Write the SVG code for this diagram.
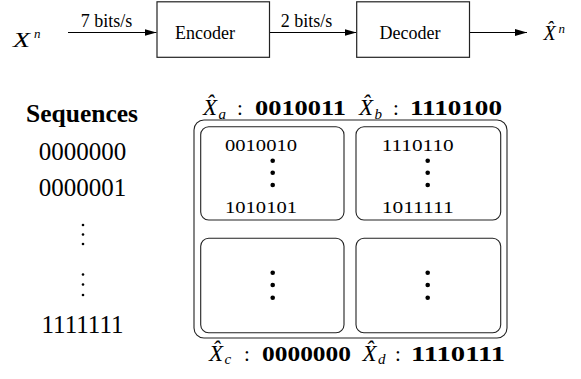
<svg xmlns="http://www.w3.org/2000/svg" width="581" height="379" viewBox="0 0 581 379">
<defs>
<marker id="arr" markerWidth="12" markerHeight="8" refX="12" refY="4" orient="auto" markerUnits="userSpaceOnUse">
<path d="M0,0.6 L12,4 L0,7.4 z" fill="#000"/>
</marker>
<style>
.box{fill:#fff;stroke:#222;stroke-width:1.2}
.rb{fill:none;stroke:#222;stroke-width:1.1}
.ln{stroke:#000;stroke-width:1.1;fill:none}
.t{font-family:"Liberation Serif","Times New Roman",serif;fill:#000}
.it{font-style:italic}
.up{font-style:normal}
.bd{font-weight:bold;font-style:normal}
.dot{fill:#000}
</style>
</defs>
<rect width="581" height="379" fill="#fff"/>

<g id="connectors">
<line class="ln" x1="68" y1="32.5" x2="156.5" y2="32.5" marker-end="url(#arr)"/>
<line class="ln" x1="269.5" y1="32.5" x2="356.5" y2="32.5" marker-end="url(#arr)"/>
<line class="ln" x1="469.5" y1="32.5" x2="527" y2="32.5" marker-end="url(#arr)"/>
<text class="t" x="106.5" y="26.5" font-size="18" text-anchor="middle">7 bits/s</text>
<text class="t" x="306.5" y="26.5" font-size="18" text-anchor="middle">2 bits/s</text>
</g>

<g id="input">
<text class="t it" x="13" y="46.5" font-size="20"><tspan textLength="17" lengthAdjust="spacingAndGlyphs">X</tspan><tspan x="34" y="37.5" font-size="13">n</tspan></text>
</g>

<g id="encoder">
<rect class="box" x="157" y="1.8" width="112.5" height="55.5"/>
<text class="t" x="205" y="39" font-size="18" text-anchor="middle">Encoder</text>
</g>

<g id="decoder">
<rect class="box" x="356.7" y="1.8" width="112.8" height="55.5"/>
<text class="t" x="410" y="39" font-size="18" text-anchor="middle">Decoder</text>
</g>

<g id="output">
<text class="t it" x="543.5" y="39.5" font-size="20">X̂<tspan x="558.5" y="33" font-size="13">n</tspan></text>
</g>

<g id="sequences">
<text class="t bd" x="82" y="121.5" font-size="25.5" text-anchor="middle">Sequences</text>
<text class="t" x="82.5" y="159.5" font-size="25" text-anchor="middle">0000000</text>
<text class="t" x="82.5" y="195.5" font-size="25" text-anchor="middle">0000001</text>
<circle class="dot" cx="83" cy="225" r="1.3"/>
<circle class="dot" cx="83" cy="234.5" r="1.3"/>
<circle class="dot" cx="83" cy="244" r="1.3"/>
<circle class="dot" cx="83" cy="274.5" r="1.3"/>
<circle class="dot" cx="83" cy="284.5" r="1.3"/>
<circle class="dot" cx="83" cy="295" r="1.3"/>
<text class="t" x="82.5" y="333" font-size="25" text-anchor="middle">1111111</text>
</g>

<g id="partition">
<rect class="rb" x="194" y="120" width="313" height="218" rx="10"/>
</g>

<g id="label-a">
<text class="t it" x="203" y="115" font-size="23">X̂<tspan x="218.5" y="118.5" font-size="15">a</tspan><tspan class="up" x="240" y="115" text-anchor="middle" font-size="21">:</tspan><tspan class="bd" x="255" y="115" text-anchor="start" font-size="21" textLength="91" lengthAdjust="spacingAndGlyphs">0010011</tspan></text>
</g>

<g id="label-b">
<text class="t it" x="359" y="115" font-size="23">X̂<tspan x="374.5" y="118.5" font-size="15">b</tspan><tspan class="up" x="396" y="115" text-anchor="middle" font-size="21">:</tspan><tspan class="bd" x="410" y="115" text-anchor="start" font-size="21" textLength="92" lengthAdjust="spacingAndGlyphs">1110100</tspan></text>
</g>

<g id="cell-a">
<rect class="rb" x="200.7" y="126.7" width="143.3" height="93.3" rx="8"/>
<text class="t" x="225" y="151" font-size="16" textLength="72" lengthAdjust="spacingAndGlyphs">0010010</text>
<circle class="dot" cx="272.7" cy="160.8" r="2.3"/>
<circle class="dot" cx="272.7" cy="172.8" r="2.3"/>
<circle class="dot" cx="272.7" cy="185" r="2.3"/>
<text class="t" x="225" y="213.3" font-size="16" textLength="72" lengthAdjust="spacingAndGlyphs">1010101</text>
</g>

<g id="cell-b">
<rect class="rb" x="356" y="126.7" width="144.7" height="93.3" rx="8"/>
<text class="t" x="381.7" y="151" font-size="16" textLength="72" lengthAdjust="spacingAndGlyphs">1110110</text>
<circle class="dot" cx="427.7" cy="160.8" r="2.3"/>
<circle class="dot" cx="427.7" cy="172.8" r="2.3"/>
<circle class="dot" cx="427.7" cy="185" r="2.3"/>
<text class="t" x="381.7" y="213.3" font-size="16" textLength="72" lengthAdjust="spacingAndGlyphs">1011111</text>
</g>

<g id="cell-c">
<rect class="rb" x="200.7" y="238.3" width="143.3" height="94.4" rx="8"/>
<circle class="dot" cx="272.7" cy="272.7" r="2.3"/>
<circle class="dot" cx="272.7" cy="285" r="2.3"/>
<circle class="dot" cx="272.7" cy="297.7" r="2.3"/>
</g>

<g id="cell-d">
<rect class="rb" x="356" y="238.3" width="144.7" height="94.4" rx="8"/>
<circle class="dot" cx="427.7" cy="272.7" r="2.3"/>
<circle class="dot" cx="427.7" cy="285" r="2.3"/>
<circle class="dot" cx="427.7" cy="297.7" r="2.3"/>
</g>

<g id="label-c">
<text class="t it" x="209" y="360.5" font-size="23">X̂<tspan x="224.5" y="364" font-size="15">c</tspan><tspan class="up" x="247" y="360.5" text-anchor="middle" font-size="21">:</tspan><tspan class="bd" x="262" y="360.5" text-anchor="start" font-size="21" textLength="89" lengthAdjust="spacingAndGlyphs">0000000</tspan></text>
</g>

<g id="label-d">
<text class="t it" x="362.5" y="360.5" font-size="23">X̂<tspan x="378" y="364" font-size="15">d</tspan><tspan class="up" x="398" y="360.5" text-anchor="middle" font-size="21">:</tspan><tspan class="bd" x="411" y="360.5" text-anchor="start" font-size="21" textLength="94" lengthAdjust="spacingAndGlyphs">1110111</tspan></text>
</g>
</svg>
